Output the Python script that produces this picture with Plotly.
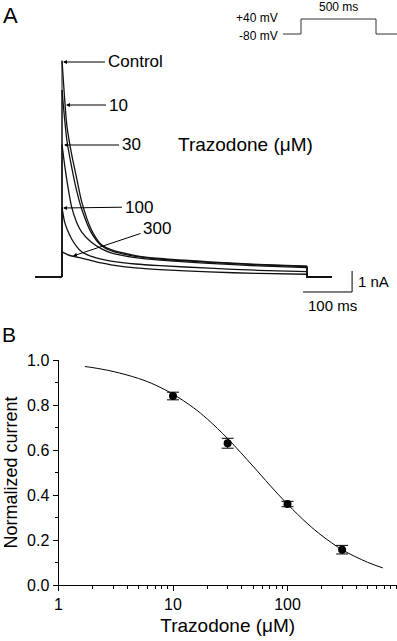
import plotly.graph_objects as go

W, H = 397, 641

# ---------------- Panel A data (current traces, nA vs ms) ----------------
t_ms = [0, 5, 10, 20, 30, 40, 60, 80, 100, 150, 200, 300, 400, 500]
i_control = [10.3, 8.6, 7.2, 5.8, 4.7, 3.6, 2.25, 1.55, 1.3, 1.02, 0.88, 0.72, 0.60, 0.52]
i_10 = [8.9, 7.6, 6.5, 5.2, 4.1, 3.25, 2.1, 1.5, 1.25, 0.98, 0.85, 0.70, 0.58, 0.50]
i_30 = [6.3, 5.4, 4.6, 3.3, 2.6, 2.15, 1.65, 1.35, 1.15, 0.92, 0.80, 0.65, 0.53, 0.45]
i_100 = [3.3, 2.65, 2.3, 1.8, 1.45, 1.2, 0.98, 0.85, 0.76, 0.62, 0.54, 0.42, 0.32, 0.26]
i_300 = [1.2, 1.14, 1.08, 1.0, 0.95, 0.9, 0.78, 0.67, 0.58, 0.43, 0.35, 0.24, 0.17, 0.13]
trace_labels = ["Control", "10", "30", "100", "300"]

pre_t = [-55, 0]          # holding before the step
post_t = [500, 551]       # holding after the step

# voltage protocol
prot_t = [-120, 0, 0, 500, 500, 640]
prot_v = [-80, -80, 40, 40, -80, -80]

# scale bars
bar_t = [492, 592, 592]
bar_i = [-0.714, -0.714, 0.286]

# ---------------- Panel B data ----------------
conc = [10, 30, 100, 300]
norm_current = [0.84, 0.63, 0.36, 0.157]
norm_err = [0.017, 0.022, 0.012, 0.019]

fit_x = [1.7, 2, 3, 5, 7, 10, 15, 20, 30, 50, 70, 100, 150, 200, 300, 500, 680]
fit_y = [0.971, 0.966, 0.949, 0.918, 0.889, 0.848, 0.789, 0.737, 0.651, 0.528,
         0.444, 0.359, 0.272, 0.219, 0.157, 0.101, 0.076]

x_ticks = [1, 10, 100]
x_minor = [2, 3, 4, 5, 6, 7, 8, 9, 20, 30, 40, 50, 60, 70, 80, 90,
           200, 300, 400, 500, 600, 700, 800, 900]

FONT = "Arial, Liberation Sans, sans-serif"


def px(x):
    return x / W


def py(y):
    return 1 - y / H


fig = go.Figure()

# ---- Panel A traces ----
series = [i_control, i_10, i_30, i_100, i_300]
for lab, vals in zip(trace_labels, series):
    fig.add_trace(go.Scatter(x=pre_t + [0], y=[0, 0, vals[0]], mode="lines",
                             line=dict(color="#111", width=1), xaxis="x2", yaxis="y2",
                             showlegend=False, hoverinfo="skip"))
    fig.add_trace(go.Scatter(x=t_ms, y=vals, mode="lines", name=lab,
                             line=dict(color="#111", width=1.3, shape="spline", smoothing=0.7),
                             xaxis="x2", yaxis="y2", showlegend=False))
    fig.add_trace(go.Scatter(x=[post_t[0]] + post_t, y=[vals[-1], 0, 0], mode="lines",
                             line=dict(color="#111", width=1.3), xaxis="x2", yaxis="y2",
                             showlegend=False, hoverinfo="skip"))

# scale bar
fig.add_trace(go.Scatter(x=bar_t, y=bar_i, mode="lines", line=dict(color="black", width=1),
                         xaxis="x2", yaxis="y2", showlegend=False, hoverinfo="skip"))

# voltage protocol
fig.add_trace(go.Scatter(x=prot_t, y=prot_v, mode="lines", line=dict(color="#333", width=1),
                         xaxis="x3", yaxis="y3", showlegend=False, hoverinfo="skip"))

# ---- Panel B ----
fig.add_trace(go.Scatter(x=fit_x, y=fit_y, mode="lines",
                         line=dict(color="black", width=1, shape="spline"),
                         showlegend=False))
fig.add_trace(go.Scatter(x=conc, y=norm_current, mode="markers",
                         marker=dict(color="black", size=8),
                         error_y=dict(type="data", array=norm_err, color="black",
                                      thickness=1, width=6),
                         showlegend=False))

# ---- Axes ----
x0 = 58.5
fig.update_layout(
    width=W, height=H,
    margin=dict(l=0, r=0, t=0, b=0, autoexpand=False),
    paper_bgcolor="white", plot_bgcolor="white",
    font=dict(family=FONT, color="black"),
    xaxis=dict(type="log", domain=[px(x0), 1], range=[0, (W - x0) / 114.5],
               tickvals=x_ticks, ticktext=[str(v) for v in x_ticks],
               ticks="outside", ticklen=5, tickwidth=1, tickcolor="black",
               minor=dict(tickvals=x_minor, ticks="outside", ticklen=3,
                          tickwidth=1, tickcolor="black"),
               showline=True, linecolor="black", linewidth=1, showgrid=False,
               zeroline=False, tickfont=dict(size=16), automargin=False,
               title=dict(text="Trazodone (\u03bcM)", font=dict(size=19), standoff=6)),
    yaxis=dict(domain=[py(585), py(360)], range=[0, 1],
               tickvals=[0, 0.2, 0.4, 0.6, 0.8, 1.0], tickformat=".1f",
               ticks="outside", ticklen=5, tickwidth=1, tickcolor="black",
               minor=dict(tickvals=[0.1, 0.3, 0.5, 0.7, 0.9], ticks="outside",
                          ticklen=3, tickwidth=1, tickcolor="black"),
               showline=True, linecolor="black", linewidth=1, showgrid=False,
               zeroline=False, tickfont=dict(size=16), automargin=False,
               title=dict(text="Normalized current", font=dict(size=18), standoff=4)),
    xaxis2=dict(domain=[0, 1], range=[-62 / 0.49, (W - 62) / 0.49], visible=False,
                anchor="y2", automargin=False),
    yaxis2=dict(domain=[py(320), 1], range=[(277 - 320) / 21, 277 / 21], visible=False,
                anchor="x2", automargin=False),
    xaxis3=dict(domain=[px(283), 1], range=[-120, 640], visible=False, anchor="y3",
                automargin=False),
    yaxis3=dict(domain=[py(35.25), py(17.75)], range=[-90, 50], visible=False,
                anchor="x3", automargin=False),
)

ann = []


def text(x, y, s, size, xanchor="center", yanchor="middle"):
    ann.append(dict(x=px(x), y=py(y), xref="paper", yref="paper", text=s,
                    showarrow=False, xanchor=xanchor, yanchor=yanchor,
                    font=dict(size=size, family=FONT, color="black")))


def arrow_label(head, center, s, size=17):
    ann.append(dict(x=px(head[0]), y=py(head[1]), xref="paper", yref="paper",
                    ax=center[0] - head[0], ay=center[1] - head[1],
                    text=s, showarrow=True, arrowhead=2, arrowsize=0.8,
                    arrowwidth=1, arrowcolor="black", standoff=0, borderpad=2,
                    font=dict(size=size, family=FONT, color="black")))


text(10, 15, "A", 22)
text(9, 334, "B", 21)
text(338, 7, "500 ms", 12)
text(280, 18, "+40 mV", 12, xanchor="right")
text(280, 36, "-80 mV", 12, xanchor="right")
text(245, 145, "Trazodone (\u03bcM)", 19)
text(356, 281, "1 nA", 15, xanchor="left")
text(332, 305, "100 ms", 15)

arrow_label((63, 62), (135, 62), "Control")
arrow_label((66, 105), (118, 105), "10")
arrow_label((64, 145), (131, 145), "30")
arrow_label((63, 208), (138.5, 207), "100")
arrow_label((73, 256), (157, 228), "300")

fig.update_layout(annotations=ann)

fig.write_html("out.html",
               config={"displayModeBar": False},
               post_script="document.body.style.margin='0';"
                           "document.body.style.overflow='hidden';")
